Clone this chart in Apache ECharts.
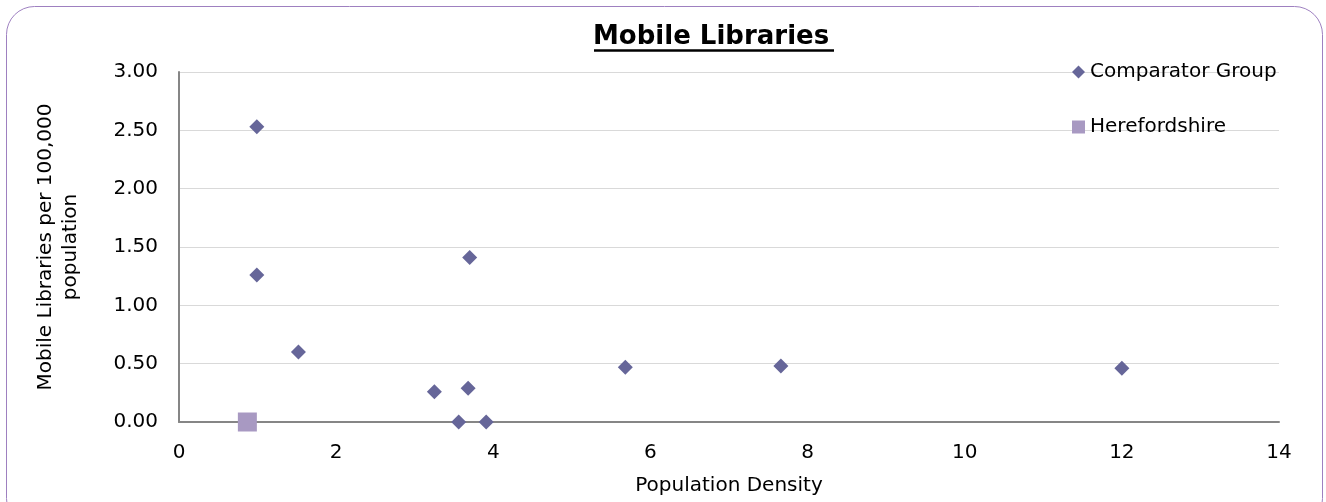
<!DOCTYPE html>
<html><head><meta charset="utf-8">
<script src="https://cdn.jsdelivr.net/npm/echarts@6/dist/echarts.min.js"></script>
<style>html,body{margin:0;padding:0;background:#fff;}#c{width:1326px;height:502px;}</style>
</head><body><div id="c"></div>
<script>
const comparatorX = [0.99, 0.99, 1.52, 3.70, 3.25, 3.68, 3.56, 3.91, 5.68, 7.66, 12.00];
const comparatorY = [2.53, 1.26, 0.60, 1.41, 0.26, 0.29, 0.00, 0.00, 0.47, 0.48, 0.46];
const herefordX = [0.87];
const herefordY = [0.00];
const xTicks = [0, 2, 4, 6, 8, 10, 12, 14];
const yTicks = [0, 0.5, 1, 1.5, 2, 2.5, 3];

const font = 'DejaVu Sans';
const chart = echarts.init(document.getElementById('c'));
chart.setOption({
  animation: false,
  textStyle: {fontFamily: font},
  title: {text: 'Mobile Libraries', left: 588, top: 19,
    textStyle: {fontFamily: font, fontSize: 26, fontWeight: 'bold', color: '#000'}},
  graphic: [
    {type: 'rect', shape: {x: 6.5, y: 6.5, width: 1316, height: 520, r: 28},
     style: {fill: 'none', stroke: '#9e80c0', lineWidth: 1}, z: -10, silent: true},
    {type: 'line', shape: {x1: 594, y1: 50.5, x2: 834, y2: 50.5},
     style: {stroke: '#000', lineWidth: 2.5}}
  ],
  legend: {
    orient: 'vertical', left: 1067, top: 57, itemGap: 35, itemWidth: 13, itemHeight: 13,
    textStyle: {fontFamily: font, fontSize: 20, color: '#000'},
    data: [{name: 'Comparator Group', icon: 'diamond'}, {name: 'Herefordshire', icon: 'rect'}]
  },
  grid: {left: 179, right: 47, top: 72, bottom: 80},
  xAxis: {
    type: 'value', min: 0, max: 14, interval: 2,
    name: 'Population Density', nameLocation: 'middle', nameGap: 54,
    nameTextStyle: {fontFamily: font, fontSize: 20, color: '#000'},
    axisLine: {show: true, onZero: false, lineStyle: {color: '#868686', width: 2}},
    axisTick: {show: false}, splitLine: {show: false},
    axisLabel: {fontFamily: font, fontSize: 20, color: '#000', margin: 21,
      formatter: v => xTicks.includes(v) ? String(v) : ''}
  },
  yAxis: {
    type: 'value', min: 0, max: 3, interval: 0.5,
    name: 'Mobile Libraries per 100,000\npopulation', nameLocation: 'middle', nameGap: 96,
    nameTextStyle: {fontFamily: font, fontSize: 20, color: '#000', lineHeight: 25},
    axisLine: {show: true, lineStyle: {color: '#868686', width: 2}},
    axisTick: {show: false},
    splitLine: {lineStyle: {color: '#d9d9d9', width: 1}},
    axisLabel: {fontFamily: font, fontSize: 20, color: '#000', margin: 21,
      formatter: v => yTicks.includes(v) ? v.toFixed(2) : ''}
  },
  series: [
    {name: 'Comparator Group', type: 'scatter', symbol: 'diamond', symbolSize: 15,
     itemStyle: {color: '#666699', opacity: 1},
     data: comparatorX.map((x, i) => [x, comparatorY[i]])},
    {name: 'Herefordshire', type: 'scatter', symbol: 'rect', symbolSize: 19,
     itemStyle: {color: '#a899c2', opacity: 1},
     data: herefordX.map((x, i) => [x, herefordY[i]])}
  ]
});
</script></body></html>
